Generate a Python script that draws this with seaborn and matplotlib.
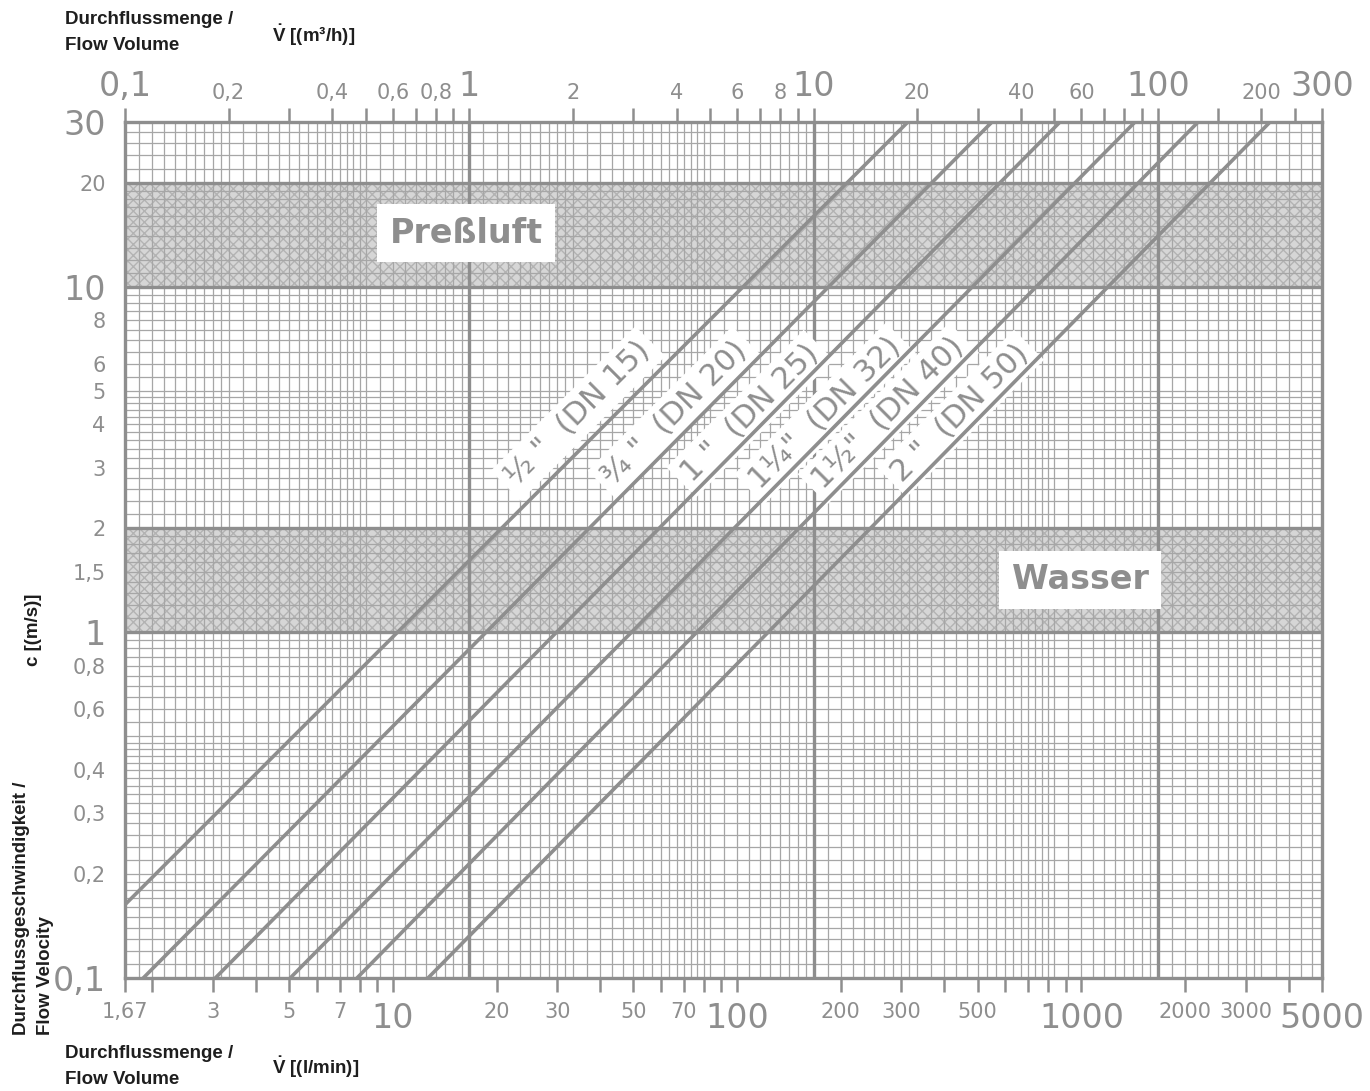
import numpy as np
import pandas as pd
import matplotlib
matplotlib.use("Agg")
import matplotlib.pyplot as plt
import seaborn as sns

# ---------------- data ----------------
pipe_labels = ['½ "  (DN 15)', '¾ "  (DN 20)', '1 "  (DN 25)',
               '1¼"  (DN 32)', '1½"  (DN 40)', '2 "  (DN 50)']
q_start = [0.1, 0.113, 0.183, 0.302, 0.472, 0.759]     # m³/h
c_start = [0.163, 0.1, 0.1, 0.1, 0.1, 0.1]             # m/s
q_end = [18.8, 33.0, 52.0, 85.9, 131.0, 212.0]         # m³/h
c_end = [30.0, 30.0, 30.0, 30.0, 30.0, 30.0]           # m/s

top_ticks = [0.1, 0.2, 0.4, 0.6, 0.8, 1, 2, 4, 6, 8, 10, 20, 40, 60, 100, 200, 300]
top_labels = ['0,1', '0,2', '0,4', '0,6', '0,8', '1', '2', '4', '6', '8', '10',
              '20', '40', '60', '100', '200', '300']
top_big = ['0,1', '1', '10', '100', '300']

bottom_ticks = [1.67, 3, 5, 7, 10, 20, 30, 50, 70, 100, 200, 300, 500, 1000, 2000, 3000, 5000]
bottom_labels = ['1,67', '3', '5', '7', '10', '20', '30', '50', '70', '100', '200',
                 '300', '500', '1000', '2000', '3000', '5000']
bottom_big = ['10', '100', '1000', '5000']

y_ticks = [0.1, 0.2, 0.3, 0.4, 0.6, 0.8, 1, 1.5, 2, 3, 4, 5, 6, 8, 10, 20, 30]
y_labels = ['0,1', '0,2', '0,3', '0,4', '0,6', '0,8', '1', '1,5', '2', '3', '4',
            '5', '6', '8', '10', '20', '30']
y_big = ['0,1', '1', '10', '30']

band_names = ['Preßluft', 'Wasser']
band_low = [10, 1]
band_high = [20, 2]

# ---------------- layout constants ----------------
GRAY = '#8e8e8e'
GRID = '#a6a6a6'
label_q = [2.07, 3.96, 6.54, 10.8, 16.5, 26.7]
label_c = 4.3
band_text_pos = [(0.98, 14.3), (59.5, 1.42)]

sns.set_theme(style='white')
plt.rcParams['font.family'] = ['DejaVu Sans']
plt.rcParams['mathtext.fontset'] = 'custom'
plt.rcParams['mathtext.rm'] = 'Liberation Sans'
plt.rcParams['mathtext.bf'] = 'Liberation Sans:bold'

fig = plt.figure(figsize=(13.7, 10.91), dpi=100)
ax = fig.add_axes([125/1370, 1-978/1091, (1322-125)/1370, (978-122)/1091])
ax.set_xscale('log')
ax.set_yscale('log')
ax.set_xlim(0.1, 300)
ax.set_ylim(0.1, 30)
ax.set_facecolor('white')

# bands
for lo, hi in zip(band_low, band_high):
    ax.axhspan(lo, hi, facecolor='#d6d6d6', edgecolor='#b3b3b3', hatch='xxx',
               linewidth=0, zorder=0.5)

# fine log grid
def fine(d0, d1):
    out = []
    d = d0
    while d < d1 * 1.0001:
        out += list(np.arange(1, 2, 0.1) * d) + list(np.arange(2, 5, 0.2) * d) + \
               list(np.arange(5, 10, 0.5) * d)
        d *= 10
    return out

xs = [v for v in fine(0.1, 100) if 0.1 < v < 300]
ys = [v for v in fine(0.1, 10) if 0.1 < v < 30]
ax.vlines(xs, 0.1, 30, colors=GRID, linewidth=0.9, zorder=1)
ax.hlines(ys, 0.1, 300, colors=GRID, linewidth=0.9, zorder=1)
for v in [1, 10, 100]:
    ax.axvline(v, color=GRAY, linewidth=2.4, zorder=2)
for v in [1, 2, 10, 20]:
    ax.axhline(v, color=GRAY, linewidth=2.4, zorder=2)
for sp in ax.spines.values():
    sp.set_color(GRAY)
    sp.set_linewidth(2.4)
    sp.set_zorder(6)

# pipe lines
rows = []
for name, qs, cs, qe, ce in zip(pipe_labels, q_start, c_start, q_end, c_end):
    rows.append((name, qs, cs))
    rows.append((name, qe, ce))
df = pd.DataFrame(rows, columns=['pipe', 'Q', 'c'])
sns.lineplot(data=df, x='Q', y='c', hue='pipe', palette=[GRAY]*len(pipe_labels),
             estimator=None, sort=False, linewidth=2.6, legend=False, ax=ax, zorder=5)
ax.set_xlim(0.1, 300)
ax.set_ylim(0.1, 30)
ax.set_xlabel('')
ax.set_ylabel('')

# pipe labels
for name, lq in zip(pipe_labels, label_q):
    ax.text(lq, label_c, name, rotation=45, rotation_mode='anchor', ha='center',
            va='center', fontsize=22, color=GRAY, family='DejaVu Sans', zorder=4,
            bbox=dict(boxstyle='square,pad=0.22', fc='white', ec='none'))

# band labels
for name, (bx, by) in zip(band_names, band_text_pos):
    ax.text(bx, by, name, ha='center', va='center', fontsize=24, fontweight='bold',
            color=GRAY, family='DejaVu Sans', zorder=4,
            bbox=dict(boxstyle='square,pad=0.38', fc='white', ec='none'))

# ticks: top (m³/h)
ax.xaxis.tick_top()
ax.set_xticks(top_ticks + [0.3, 0.5, 0.7, 0.9, 3, 5, 7, 9, 30, 50, 70, 80, 90, 150, 250])
ax.set_xticklabels(top_labels + [''] * 15)
ax.xaxis.set_minor_locator(matplotlib.ticker.NullLocator())
ax.tick_params(axis='x', which='major', direction='out', length=10, width=1.8,
               color=GRAY, labelcolor=GRAY, pad=4)
for t in ax.get_xticklabels():
    t.set_fontsize(24 if t.get_text() in top_big else 15)

ax.set_yticks(y_ticks)
ax.set_yticklabels(y_labels)
ax.yaxis.set_minor_locator(matplotlib.ticker.NullLocator())
ax.tick_params(axis='y', which='major', direction='out', length=9, width=1.8,
               color=GRAY, labelcolor=GRAY, pad=5)
for t in ax.get_yticklabels():
    t.set_fontsize(24 if t.get_text() in y_big else 15)

# bottom axis (l/min)
sec = ax.secondary_xaxis('bottom', functions=(lambda q: q * 1000 / 60,
                                              lambda l: l * 60 / 1000))
sec.set_xticks(bottom_ticks + [2, 4, 6, 8, 9, 40, 60, 80, 90, 400, 600, 700, 800, 900, 4000])
sec.set_xticklabels(bottom_labels + [''] * 15)
sec.xaxis.set_minor_locator(matplotlib.ticker.NullLocator())
sec.tick_params(axis='x', direction='out', length=10, width=1.8, color=GRAY,
                labelcolor=GRAY, pad=7)
sec.spines['bottom'].set_visible(False)
for t in sec.get_xticklabels():
    t.set_fontsize(24 if t.get_text() in bottom_big else 15)

# axis titles
tkw = dict(fontsize=13.5, fontweight='bold', color='#1e1e1e', family='Liberation Sans')
fig.text(65/1370, 1-20/1091, 'Durchflussmenge /', ha='left', va='center', **tkw)
fig.text(65/1370, 1-46/1091, 'Flow Volume', ha='left', va='center', **tkw)
fig.text(272/1370, 1-35/1091, r'$\mathbf{\dot{V}}$ [(m³/h)]', ha='left', va='center', **tkw)
fig.text(65/1370, 1-1054/1091, 'Durchflussmenge /', ha='left', va='center', **tkw)
fig.text(65/1370, 1-1080/1091, 'Flow Volume', ha='left', va='center', **tkw)
fig.text(272/1370, 1-1067/1091, r'$\mathbf{\dot{V}}$ [(l/min)]', ha='left', va='center', **tkw)
fig.text(22/1370, 1-1035/1091, 'Durchflussgeschwindigkeit /', rotation=90,
         ha='center', va='bottom', **tkw)
fig.text(46/1370, 1-1035/1091, 'Flow Velocity', rotation=90, ha='center',
         va='bottom', **tkw)
fig.text(34/1370, 1-630/1091, 'c [(m/s)]', rotation=90, ha='center', va='center', **tkw)

fig.savefig('out.png', dpi=100, facecolor='white')
